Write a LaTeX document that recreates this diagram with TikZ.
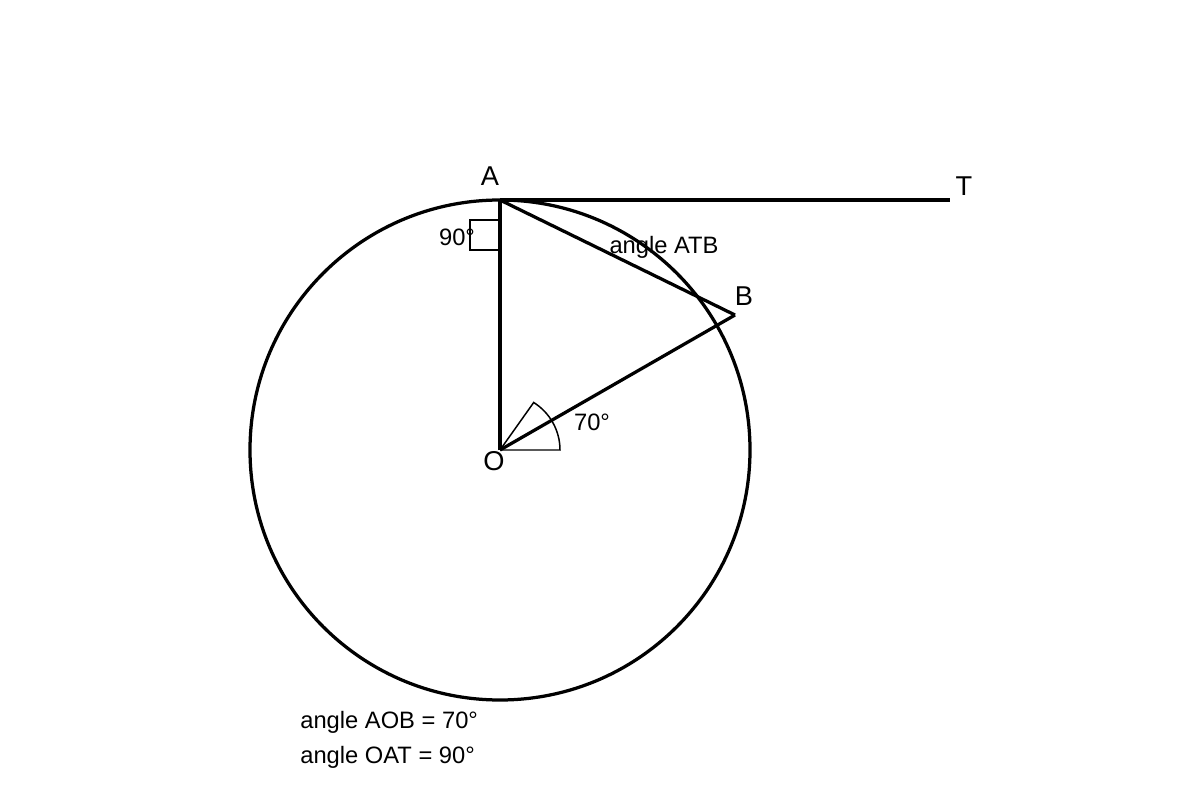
\documentclass[tikz,border=0pt]{standalone}
\usepackage{fontspec}
\setmainfont{Liberation Sans}
\usepackage{xcolor}

\begin{document}
\begin{tikzpicture}[x=0.02cm,y=-0.02cm]
    % Define styles
    \tikzstyle{thickline} = [line width=1.85pt, black]
    \tikzstyle{thinline} = [line width=0.85pt, black]
    \tikzstyle{pointlabel} = [font=\fontsize{15.5}{18}\selectfont, inner sep=0pt]
    \tikzstyle{anglelabel} = [font=\fontsize{13.5}{16}\selectfont, inner sep=0pt]
    \useasboundingbox (0,0) rectangle (1200,800);

    % Points of the figure
    \coordinate (O) at (500,450);
    \coordinate (A) at (500,200);
    \coordinate (B) at (735,315);
    \coordinate (T) at (950,200);

    % Circle, tangent and chords
    \draw [thickline] (O) circle [radius=250];
    \draw [thickline] (A) -- (T);
    \draw [thickline] (O) -- (A);
    \draw [thickline] (A) -- (B);
    \draw [thickline] (O) -- (B);

    % Angle marks
    \draw [thinline] (470,220) rectangle (500,250);
    \draw [thinline] (O) -- (560,450) arc [start angle=0, end angle=-58, radius=56] -- (O);

    % Labels
    \node (lA) [pointlabel] at (490,176) {A};
    \node (lB) [pointlabel] at (744,296) {B};
    \node (lO) [pointlabel] at (494,461) {O};
    \node (lT) [pointlabel] at (964,186) {T};
    \node (l90) [anglelabel] at (457,237) {90°};
    \node (lATB) [anglelabel] at (664,247) {angle ATB};
    \node (l70) [anglelabel] at (592,422) {70°};
    \node (eq1) [anglelabel, anchor=west] at (300,722) {angle AOB = 70°};
    \node (eq2) [anglelabel, anchor=west] at (300,757) {angle OAT = 90°};
\end{tikzpicture}
\end{document}
